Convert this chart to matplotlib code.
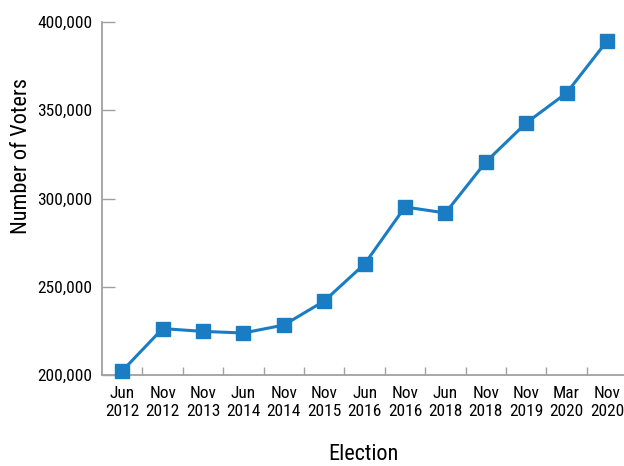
import matplotlib
matplotlib.use("Agg")
import matplotlib.pyplot as plt
from matplotlib import font_manager
from matplotlib.ticker import FuncFormatter, FixedLocator

names = {f.name for f in font_manager.fontManager.ttflist}
fam = None
for cand in ["Roboto Condensed", "Liberation Sans Narrow", "Open Sans Condensed", "DejaVu Sans"]:
    if cand in names:
        fam = cand
        break
plt.rcParams['font.family'] = [fam, 'DejaVu Sans']
stretch = 'condensed' if fam == 'DejaVu Sans' else 'normal'

elections = ["Jun\n2012", "Nov\n2012", "Nov\n2013", "Jun\n2014", "Nov\n2014", "Nov\n2015",
             "Jun\n2016", "Nov\n2016", "Jun\n2018", "Nov\n2018", "Nov\n2019", "Mar\n2020", "Nov\n2020"]
voters = [202300, 226300, 224700, 223800, 228300, 241900, 262900, 295200, 291800,
          320700, 342800, 359800, 389200]

W, H = 624, 466
fig = plt.figure(figsize=(W / 100, H / 100), dpi=100)
ax_w = (624 - 102) / W
ax = fig.add_axes([102 / W, 1 - 375 / H, ax_w, (375 - 22) / H])

color = "#1a7dc4"
x = list(range(len(elections)))
ax.plot(x, voters, color=color, lw=2.2, marker='s', markersize=9.5, zorder=3, clip_on=False)

band = 40.4
ax.set_xlim(-0.5, -0.5 + (624 - 102) / band)
ax.set_ylim(200000, 400000)

grey = "#a0a0a0"
for s in ['top', 'right']:
    ax.spines[s].set_visible(False)
for s in ['left', 'bottom']:
    ax.spines[s].set_color(grey)
    ax.spines[s].set_linewidth(1.3)

ax.set_yticks([200000, 250000, 300000, 350000, 400000])
ax.yaxis.set_major_formatter(FuncFormatter(lambda v, p: f"{int(v):,}"))
ax.tick_params(axis='y', direction='in', length=9, color=grey, width=1.0,
               labelsize=12.5, pad=7)

ax.set_xticks(x)
ax.set_xticklabels(elections, fontsize=12.5, linespacing=1.25, fontstretch=stretch)
ax.tick_params(axis='x', which='major', length=0, pad=8)
ax.xaxis.set_minor_locator(FixedLocator([i + 0.5 for i in range(len(elections) - 1)]))
ax.tick_params(axis='x', which='minor', direction='in', length=6, color=grey, width=1.0)

for lab in ax.get_yticklabels():
    lab.set_fontstretch(stretch)

ax.set_xlabel("Election", fontsize=16, fontstretch=stretch)
ax.xaxis.set_label_coords(0.5, -(455 - 375) / 353)
ax.xaxis.label.set_va('center')
ax.set_ylabel("Number of Voters", fontsize=16, fontstretch=stretch)
ax.yaxis.set_label_coords((22 - 102) / 522, 0.5 - (156 - 198.5) / 353)
ax.yaxis.label.set_va('center')

fig.savefig("out.png", dpi=100)
